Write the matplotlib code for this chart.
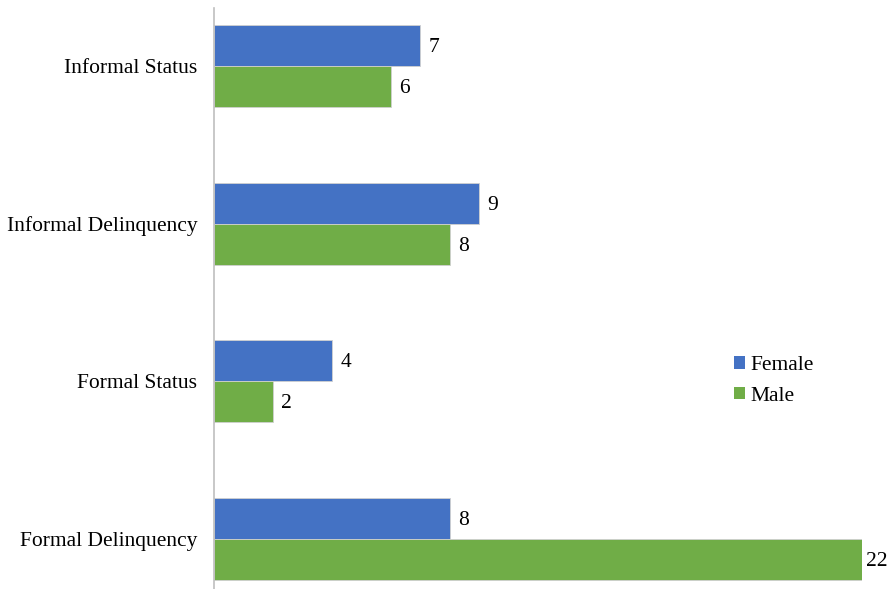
import matplotlib
matplotlib.use("Agg")
import matplotlib.pyplot as plt
from matplotlib.patches import Patch

categories = ["Informal Status", "Informal Delinquency", "Formal Status", "Formal Delinquency"]
female = [7, 9, 4, 8]
male = [6, 8, 2, 22]
series_names = ["Female", "Male"]
colors = ["#4472C4", "#70AD47"]

plt.rcParams['font.family'] = ['Liberation Serif', 'DejaVu Serif']

W, H = 893, 589
fig = plt.figure(figsize=(W / 100, H / 100), dpi=100)
x0, x1 = 214, 862
ytop, ybot = 8, 589
ax = fig.add_axes([x0 / W, 1 - ybot / H, (x1 - x0) / W, (ybot - ytop) / H])

sp = 157.7
c0 = 66
xmax = 22
ax.set_xlim(0, xmax)
ax.set_ylim((ybot - c0) / sp, (ytop - c0) / sp)

fs = 15.5
pos = list(range(len(categories)))
h = 41 / sp
ax.barh([p - h / 2 for p in pos], female, height=h, color=colors[0], edgecolor="#d0d0d0", linewidth=0.6)
ax.barh([p + h / 2 for p in pos], male, height=h, color=colors[1], edgecolor="#d0d0d0", linewidth=0.6)

for p, f, m in zip(pos, female, male):
    ax.annotate(str(f), (f, p - h / 2), xytext=(6, -1.5), textcoords="offset points",
                va="center", ha="left", fontsize=fs, clip_on=False)
    off = 3 if m >= xmax else 6
    ax.annotate(str(m), (m, p + h / 2), xytext=(off, -1.5), textcoords="offset points",
                va="center", ha="left", fontsize=fs, clip_on=False)

ax.set_yticks(pos)
ax.set_yticklabels(categories, fontsize=fs)
ax.tick_params(axis="y", length=0, pad=12)
ax.set_xticks([])
for s in ["top", "right", "bottom"]:
    ax.spines[s].set_visible(False)
ax.spines["left"].set_color("#bfbfbf")
ax.spines["left"].set_linewidth(1.2)

handles = [Patch(facecolor=c, edgecolor="none") for c in colors]
fig.legend(handles, series_names, loc="center left", bbox_to_anchor=(715 / W, 1 - 381 / H),
           frameon=False, fontsize=fs, handlelength=0.5, handleheight=0.5, handletextpad=0.25,
           labelspacing=0.55)

fig.savefig("out.png", dpi=100)
